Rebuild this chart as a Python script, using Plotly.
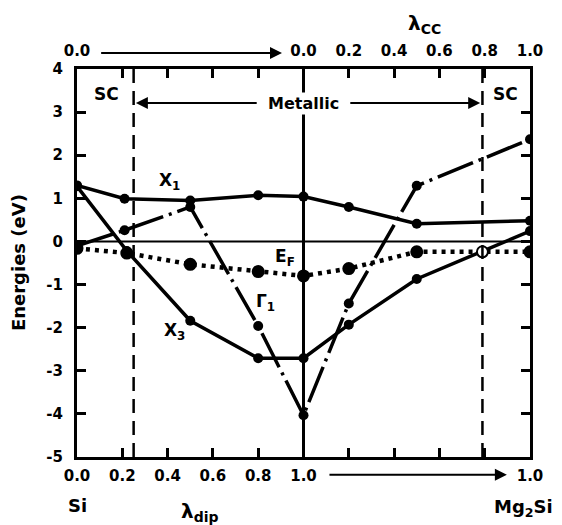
import plotly.graph_objects as go

# Composite x: left half = lambda_dip (0..1), right half = 1 + lambda_cc (1..2)
x1_x = [0.0, 0.21, 0.5, 0.8, 1.0, 1.2, 1.5, 2.0]
x1_y = [1.30, 0.99, 0.95, 1.07, 1.04, 0.80, 0.41, 0.48]

x3_x = [0.0, 0.22, 0.5, 0.8, 1.0, 1.2, 1.5, 2.0]
x3_y = [1.28, -0.22, -1.84, -2.71, -2.71, -1.93, -0.87, 0.24]

g1_x = [0.0, 0.21, 0.5, 0.8, 1.0, 1.2, 1.5, 2.0]
g1_y = [-0.10, 0.26, 0.80, -1.96, -4.03, -1.44, 1.29, 2.37]

ef_x = [0.0, 0.22, 0.5, 0.8, 1.0, 1.2, 1.5, 1.79, 2.0]
ef_y = [-0.16, -0.27, -0.53, -0.70, -0.80, -0.63, -0.24, -0.24, -0.24]
ef_open = [False, False, False, False, False, False, False, True, False]

bottom_tickvals = [0.0, 0.2, 0.4, 0.6, 0.8, 1.0, 1.2, 1.4, 1.6, 1.8, 2.0]
bottom_ticktext = ["0.0", "0.2", "0.4", "0.6", "0.8", "1.0", "", "", "", "", "1.0"]
top_ticktext = ["0.0", "", "", "", "", "0.0", "0.2", "0.4", "0.6", "0.8", "1.0"]
y_tickvals = [-5, -4, -3, -2, -1, 0, 1, 2, 3, 4]
y_ticktext = ["-5", "-4", "-3", "-2", "-1", "0", "1", "2", "3", "4"]

sc_left = 0.25
sc_right = 1.79

FONT = "DejaVu Sans, Liberation Sans, Arial, sans-serif"
fig = go.Figure()

fig.add_trace(go.Scatter(x=x1_x, y=x1_y, mode="lines+markers",
                         line=dict(color="black", width=3.5),
                         marker=dict(color="black", size=10), showlegend=False))
fig.add_trace(go.Scatter(x=x3_x, y=x3_y, mode="lines+markers",
                         line=dict(color="black", width=3.5),
                         marker=dict(color="black", size=10), showlegend=False))
fig.add_trace(go.Scatter(x=g1_x, y=g1_y, mode="lines+markers",
                         line=dict(color="black", width=3.5, dash="38px,6px,3px,6px"),
                         marker=dict(color="black", size=10), showlegend=False))
fig.add_trace(go.Scatter(x=ef_x, y=ef_y, mode="lines+markers",
                         line=dict(color="black", width=4.5, dash="4px,5px"),
                         marker=dict(color=["white" if o else "black" for o in ef_open],
                                     size=11, line=dict(color="black", width=2)),
                         showlegend=False))
# top axis labels carrier
fig.add_trace(go.Scatter(x=[0, 2], y=[None, None], xaxis="x2", mode="lines",
                         showlegend=False, hoverinfo="skip"))

shapes = [
    dict(type="line", xref="x", yref="paper", x0=1.0, x1=1.0, y0=0, y1=1,
         line=dict(color="black", width=3)),
    dict(type="line", xref="paper", yref="y", x0=0, x1=1, y0=0, y1=0,
         line=dict(color="black", width=2)),
    dict(type="line", xref="x", yref="paper", x0=sc_left, x1=sc_left, y0=0, y1=1,
         line=dict(color="black", width=2.5, dash="14px,8px")),
    dict(type="line", xref="x", yref="paper", x0=sc_right, x1=sc_right, y0=0, y1=1,
         line=dict(color="black", width=2.5, dash="14px,8px")),
]


def f(size):
    return dict(family=FONT, size=size, color="black", weight="bold")


def txt(x, y, text, size, xref="x", yref="y", **kw):
    return dict(x=x, y=y, xref=xref, yref=yref, text=text, showarrow=False,
                xanchor="center", yanchor="middle", font=f(size), **kw)


def arrow(x, y, ax, yref="y"):
    return dict(x=x, y=y, ax=ax, ay=0, xref="x", yref=yref, axref="x",
                ayref="pixel", text="", showarrow=True, arrowhead=2,
                arrowsize=1.2, arrowwidth=2, arrowcolor="black")


ann = [
    txt(0.132, 3.42, "SC", 17),
    txt(1.89, 3.42, "SC", 17),
    txt(1.0, 3.21, "Metallic", 16, bgcolor="white"),
    arrow(sc_left + 0.01, 3.21, 0.8),
    arrow(sc_right - 0.01, 3.21, 1.2),
    txt(0.41, 1.38, "X<sub>1</sub>", 17),
    txt(0.43, -2.1, "X<sub>3</sub>", 17),
    txt(0.92, -0.38, "E<sub>F</sub>", 17),
    txt(0.83, -1.42, "Γ<sub>1</sub>", 17),
    arrow(0.905, 1.041, 0.1, yref="paper"),
    arrow(1.898, -0.046, 1.108, yref="paper"),
    txt(0.768, 1.116, "λ<sub>CC</sub>", 20, xref="paper", yref="paper"),
    txt(0.272, -0.142, "λ<sub>dip</sub>", 20, xref="paper", yref="paper"),
    txt(0.002, -0.124, "Si", 18, xref="paper", yref="paper"),
    txt(0.985, -0.131, "Mg<sub>2</sub>Si", 18, xref="paper", yref="paper"),
    txt(-0.130, 0.5, "Energies (eV)", 18, xref="paper", yref="paper", textangle=-90),
]

tickfont = f(15)
fig.update_layout(
    width=554, height=517,
    margin=dict(l=69, r=32, t=61, b=68),
    paper_bgcolor="white", plot_bgcolor="white",
    font=dict(family=FONT, color="black"),
    shapes=shapes, annotations=ann,
    xaxis=dict(range=[0, 2], tickvals=bottom_tickvals, ticktext=bottom_ticktext,
               ticks="inside", ticklen=9, tickwidth=2.5, tickcolor="black",
               showline=True, linewidth=3, linecolor="black", mirror="ticks",
               showgrid=False, zeroline=False, tickfont=tickfont,
               automargin=False, ticklabelstandoff=3),
    xaxis2=dict(range=[0, 2], overlaying="x", side="top", tickvals=bottom_tickvals,
                ticktext=top_ticktext, ticks="", showline=False, showgrid=False,
                zeroline=False, tickfont=tickfont, automargin=False,
                ticklabelstandoff=9),
    yaxis=dict(range=[-5, 4], tickvals=y_tickvals, ticktext=y_ticktext,
               ticks="inside", ticklen=9, tickwidth=2.5, tickcolor="black",
               showline=True, linewidth=3, linecolor="black", mirror="ticks",
               showgrid=False, zeroline=False, tickfont=tickfont,
               automargin=False, ticklabelstandoff=8),
)

fig.write_html("out.html")
